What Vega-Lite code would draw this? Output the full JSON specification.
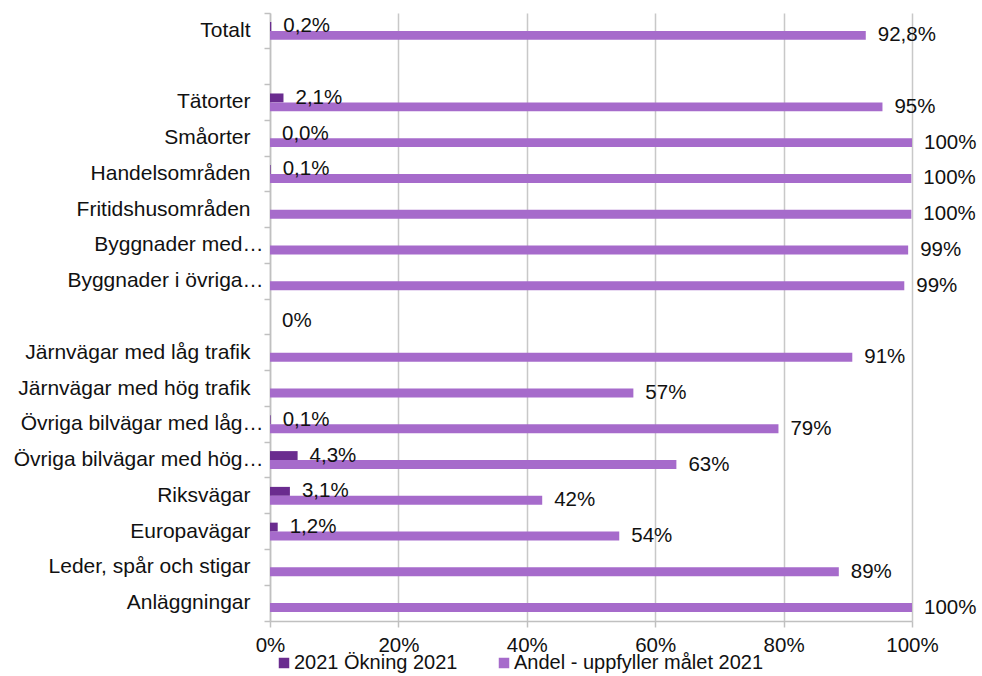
{
  "$schema": "https://vega.github.io/schema/vega-lite/v6.json",
  "autosize": {"type": "none"},
  "width": 642,
  "height": 608,
  "padding": {"left": 270, "top": 13, "right": 70, "bottom": 55},
  "background": "white",
  "config": {
    "font": "Liberation Sans",
    "view": {"stroke": null},
    "text": {"font": "Liberation Sans"}
  },
  "data": {
    "values": [
      {"kategori": "Totalt", "serie": "2021 Ökning 2021", "varde": 0.002, "etikett": "0,2%"},
      {"kategori": "Totalt", "serie": "Andel - uppfyller målet 2021", "varde": 0.928, "etikett": "92,8%"},
      {"kategori": " ", "serie": "2021 Ökning 2021", "varde": null, "etikett": null},
      {"kategori": " ", "serie": "Andel - uppfyller målet 2021", "varde": null, "etikett": null},
      {"kategori": "Tätorter", "serie": "2021 Ökning 2021", "varde": 0.021, "etikett": "2,1%"},
      {"kategori": "Tätorter", "serie": "Andel - uppfyller målet 2021", "varde": 0.954, "etikett": "95%"},
      {"kategori": "Småorter", "serie": "2021 Ökning 2021", "varde": 0.0, "etikett": "0,0%"},
      {"kategori": "Småorter", "serie": "Andel - uppfyller målet 2021", "varde": 1.0, "etikett": "100%"},
      {"kategori": "Handelsområden", "serie": "2021 Ökning 2021", "varde": 0.001, "etikett": "0,1%"},
      {"kategori": "Handelsområden", "serie": "Andel - uppfyller målet 2021", "varde": 0.999, "etikett": "100%"},
      {"kategori": "Fritidshusområden", "serie": "2021 Ökning 2021", "varde": null, "etikett": null},
      {"kategori": "Fritidshusområden", "serie": "Andel - uppfyller målet 2021", "varde": 0.999, "etikett": "100%"},
      {"kategori": "Byggnader med…", "serie": "2021 Ökning 2021", "varde": null, "etikett": null},
      {"kategori": "Byggnader med…", "serie": "Andel - uppfyller målet 2021", "varde": 0.994, "etikett": "99%"},
      {"kategori": "Byggnader i övriga…", "serie": "2021 Ökning 2021", "varde": null, "etikett": null},
      {"kategori": "Byggnader i övriga…", "serie": "Andel - uppfyller målet 2021", "varde": 0.988, "etikett": "99%"},
      {"kategori": "  ", "serie": "2021 Ökning 2021", "varde": null, "etikett": null},
      {"kategori": "  ", "serie": "Andel - uppfyller målet 2021", "varde": 0.0, "etikett": "0%"},
      {"kategori": "Järnvägar med låg trafik", "serie": "2021 Ökning 2021", "varde": null, "etikett": null},
      {"kategori": "Järnvägar med låg trafik", "serie": "Andel - uppfyller målet 2021", "varde": 0.907, "etikett": "91%"},
      {"kategori": "Järnvägar med hög trafik", "serie": "2021 Ökning 2021", "varde": null, "etikett": null},
      {"kategori": "Järnvägar med hög trafik", "serie": "Andel - uppfyller målet 2021", "varde": 0.566, "etikett": "57%"},
      {"kategori": "Övriga bilvägar med låg…", "serie": "2021 Ökning 2021", "varde": 0.001, "etikett": "0,1%"},
      {"kategori": "Övriga bilvägar med låg…", "serie": "Andel - uppfyller målet 2021", "varde": 0.792, "etikett": "79%"},
      {"kategori": "Övriga bilvägar med hög…", "serie": "2021 Ökning 2021", "varde": 0.043, "etikett": "4,3%"},
      {"kategori": "Övriga bilvägar med hög…", "serie": "Andel - uppfyller målet 2021", "varde": 0.633, "etikett": "63%"},
      {"kategori": "Riksvägar", "serie": "2021 Ökning 2021", "varde": 0.031, "etikett": "3,1%"},
      {"kategori": "Riksvägar", "serie": "Andel - uppfyller målet 2021", "varde": 0.424, "etikett": "42%"},
      {"kategori": "Europavägar", "serie": "2021 Ökning 2021", "varde": 0.012, "etikett": "1,2%"},
      {"kategori": "Europavägar", "serie": "Andel - uppfyller målet 2021", "varde": 0.544, "etikett": "54%"},
      {"kategori": "Leder, spår och stigar", "serie": "2021 Ökning 2021", "varde": null, "etikett": null},
      {"kategori": "Leder, spår och stigar", "serie": "Andel - uppfyller målet 2021", "varde": 0.886, "etikett": "89%"},
      {"kategori": "Anläggningar", "serie": "2021 Ökning 2021", "varde": null, "etikett": null},
      {"kategori": "Anläggningar", "serie": "Andel - uppfyller målet 2021", "varde": 1.0, "etikett": "100%"}
    ]
  },
  "encoding": {
    "y": {
      "field": "kategori",
      "type": "nominal",
      "sort": null,
      "scale": {
        "domain": ["Totalt", " ", "Tätorter", "Småorter", "Handelsområden", "Fritidshusområden", "Byggnader med…", "Byggnader i övriga…", "  ", "Järnvägar med låg trafik", "Järnvägar med hög trafik", "Övriga bilvägar med låg…", "Övriga bilvägar med hög…", "Riksvägar", "Europavägar", "Leder, spår och stigar", "Anläggningar"],
        "paddingInner": 0,
        "paddingOuter": 0
      },
      "axis": {
        "title": null,
        "bandPosition": 1,
        "tickExtra": true,
        "tickSize": 6,
        "tickColor": "#c0c0c0",
        "tickWidth": 1.5,
        "domainColor": "#c0c0c0",
        "domainWidth": 1.5,
        "labelFontSize": 21,
        "labelColor": "#111111",
        "labelPadding": {
          "condition": {"test": "indexof(['Totalt', 'Tätorter', 'Småorter', 'Handelsområden', 'Fritidshusområden', 'Järnvägar med låg trafik', 'Järnvägar med hög trafik', 'Riksvägar', 'Europavägar', 'Leder, spår och stigar', 'Anläggningar'], datum.value) >= 0", "value": 14},
          "value": 1
        },
        "labelLimit": 300
      }
    },
    "yOffset": {
      "field": "serie",
      "type": "nominal",
      "sort": ["2021 Ökning 2021", "Andel - uppfyller målet 2021"],
      "scale": {"paddingInner": 0, "paddingOuter": 1.265}
    },
    "x": {
      "field": "varde",
      "type": "quantitative",
      "scale": {"domain": [0, 1], "nice": false, "zero": true},
      "axis": {
        "title": null,
        "format": ".0%",
        "values": [0, 0.2, 0.4, 0.6, 0.8, 1.0],
        "grid": true,
        "gridColor": "#c8c8c8",
        "gridWidth": 1.5,
        "domainColor": "#c0c0c0",
        "domainWidth": 1.5,
        "tickColor": "#c0c0c0",
        "tickWidth": 1.5,
        "tickSize": 6,
        "labelFontSize": 20.5,
        "labelColor": "#111111",
        "labelPadding": 8,
        "labelFlush": false
      }
    }
  },
  "layer": [
    {
      "mark": {"type": "bar"},
      "encoding": {
        "color": {
          "field": "serie",
          "type": "nominal",
          "sort": ["2021 Ökning 2021", "Andel - uppfyller målet 2021"],
          "scale": {"domain": ["2021 Ökning 2021", "Andel - uppfyller målet 2021"], "range": ["#6a2c8f", "#a66bcb"]},
          "legend": {
            "title": null,
            "orient": "none",
            "direction": "horizontal",
            "legendX": 4,
            "legendY": 640,
            "padding": 0,
            "symbolType": "square",
            "symbolSize": 110,
            "symbolStrokeWidth": 0,
            "labelFontSize": 20,
            "labelColor": "#111111",
            "labelOffset": 0,
            "columnPadding": 36,
            "labelLimit": 400
          }
        }
      }
    },
    {
      "transform": [{"filter": "datum.etikett != null"}],
      "mark": {"type": "text", "align": "left", "baseline": "middle", "dx": 12, "fontSize": 20.5, "color": "#111111"},
      "encoding": {
        "text": {"field": "etikett", "type": "nominal"}
      }
    }
  ]
}
